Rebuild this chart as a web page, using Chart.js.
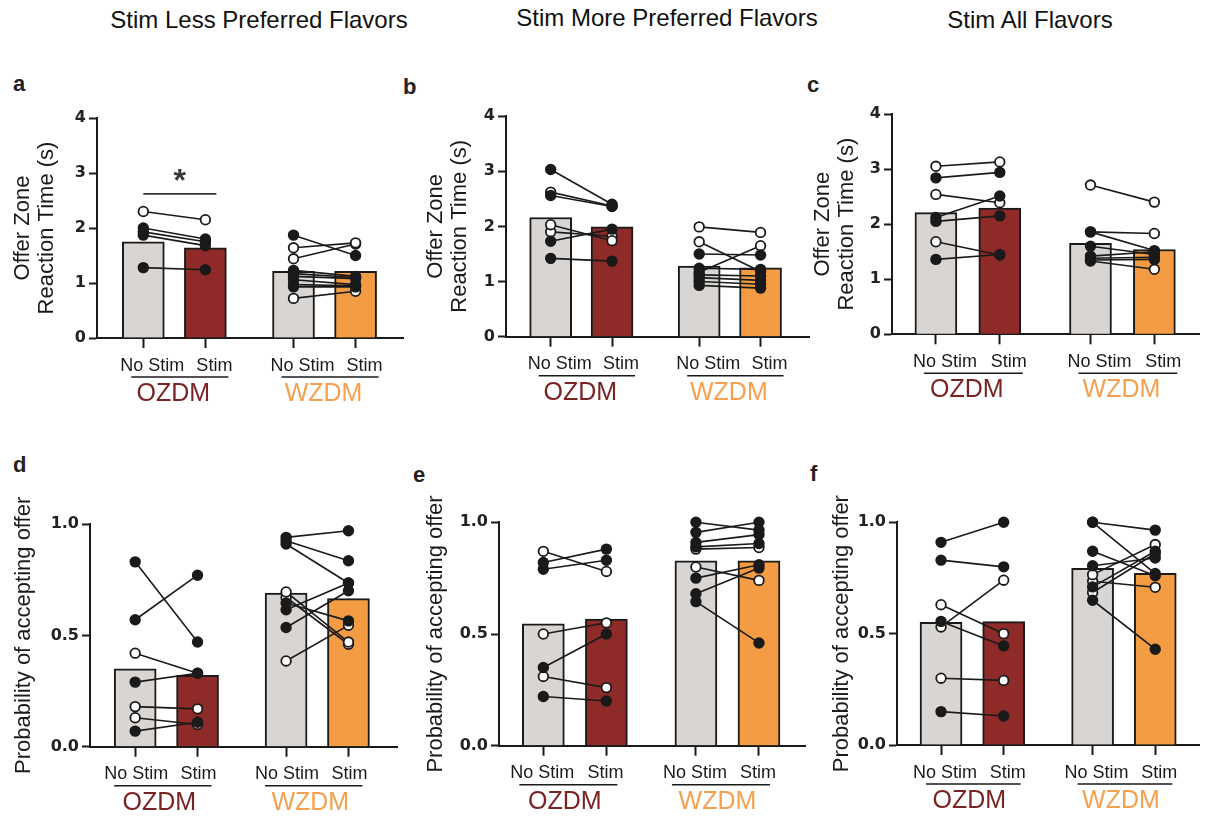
<!DOCTYPE html>
<html>
<head>
<meta charset="utf-8">
<script src="https://cdn.jsdelivr.net/npm/chart.js@4.4.1/dist/chart.umd.min.js"></script>
<style>
  body { margin: 0; background: #fff; font-family: "Liberation Sans", Arial, sans-serif; }
  #fig { position: relative; width: 1206px; height: 818px; overflow: hidden; background: #fff; }
  canvas { position: absolute; }
  .title { position: absolute; font-size: 24px; color: #111; white-space: nowrap; transform: translateX(-50%); }
  .letter { position: absolute; font-size: 22px; font-weight: bold; color: #222; }
</style>
</head>
<body>
<div id="fig">
  <div class="title" style="left:259px; top:6px;">Stim Less Preferred Flavors</div>
  <div class="title" style="left:667px; top:4px;">Stim More Preferred Flavors</div>
  <div class="title" style="left:1030px; top:6px;">Stim All Flavors</div>
  <div class="letter" style="left:13px; top:71px;">a</div>
  <div class="letter" style="left:403px; top:74px;">b</div>
  <div class="letter" style="left:807px; top:72px;">c</div>
  <div class="letter" style="left:13px; top:452px;">d</div>
  <div class="letter" style="left:413px; top:462px;">e</div>
  <div class="letter" style="left:810px; top:461px;">f</div>
</div>
<script>
// labels
const conditions = ['No Stim', 'Stim', 'No Stim', 'Stim'];
const groups = ['OZDM', 'WZDM'];
const rtTitle = ['Offer Zone', 'Reaction Time (s)'];
const probTitle = 'Probability of accepting offer';

// bar heights: OZDM no stim, OZDM stim, WZDM no stim, WZDM stim
const aBars = [1.75, 1.64, 1.21, 1.21];
const bBars = [2.16, 1.99, 1.28, 1.25];
const cBars = [2.21, 2.29, 1.65, 1.54];
const dBars = [0.35, 0.32, 0.69, 0.665];
const eBars = [0.545, 0.567, 0.827, 0.827];
const fBars = [0.551, 0.554, 0.793, 0.771];

// individual animals (1 = filled marker, 0 = open marker)
const aOzNo = [2.30, 2.00, 1.93, 1.87, 1.28];
const aOzSt = [2.15, 1.80, 1.75, 1.68, 1.24];
const aOzFill = [0, 1, 1, 1, 1];
const aWzNo = [1.87, 1.64, 1.44, 1.23, 1.17, 1.12, 1.06, 0.97, 0.93, 0.72];
const aWzSt = [1.50, 1.73, 1.71, 1.12, 1.10, 1.08, 0.97, 0.95, 0.93, 0.85];
const aWzFill = [1, 0, 0, 1, 1, 1, 1, 1, 1, 0];

const bOzNo = [3.03, 2.62, 2.56, 2.03, 1.90, 1.73, 1.42];
const bOzSt = [2.40, 2.37, 2.36, 1.74, 1.82, 1.95, 1.37];
const bOzFill = [1, 0, 1, 0, 0, 1, 1];
const bWzNo = [1.99, 1.72, 1.50, 1.24, 1.17, 1.12, 1.07, 1.00, 0.93];
const bWzSt = [1.89, 1.18, 1.48, 1.22, 1.65, 1.10, 1.02, 0.95, 0.88];
const bWzFill = [0, 0, 1, 1, 0, 1, 1, 1, 1];

const cOzNo = [3.05, 2.84, 2.54, 2.12, 2.05, 1.68, 1.36];
const cOzSt = [3.13, 2.94, 2.39, 2.51, 2.15, 1.44, 1.45];
const cOzFill = [0, 1, 0, 1, 1, 0, 1];
const cWzNo = [2.71, 1.86, 1.86, 1.60, 1.42, 1.38, 1.35, 1.33];
const cWzSt = [2.40, 1.83, 1.52, 1.45, 1.50, 1.40, 1.36, 1.18];
const cWzFill = [0, 0, 1, 1, 1, 1, 1, 0];

const dOzNo = [0.83, 0.57, 0.42, 0.29, 0.18, 0.13, 0.07];
const dOzSt = [0.47, 0.77, 0.33, 0.33, 0.17, 0.10, 0.11];
const dOzFill = [1, 1, 0, 1, 0, 0, 1];
const dWzNo = [0.94, 0.925, 0.91, 0.695, 0.67, 0.645, 0.615, 0.535, 0.385];
const dWzSt = [0.97, 0.835, 0.735, 0.47, 0.46, 0.565, 0.735, 0.70, 0.545];
const dWzFill = [1, 1, 1, 0, 0, 1, 1, 1, 0];

const eOzNo = [0.87, 0.82, 0.79, 0.50, 0.35, 0.31, 0.22];
const eOzSt = [0.78, 0.88, 0.83, 0.55, 0.50, 0.26, 0.20];
const eOzFill = [0, 1, 1, 0, 1, 0, 1];
const eWzNo = [1.0, 0.955, 0.91, 0.89, 0.88, 0.80, 0.75, 0.68, 0.645];
const eWzSt = [0.965, 1.0, 0.945, 0.905, 0.887, 0.74, 0.81, 0.795, 0.46];
const eWzFill = [1, 1, 1, 1, 0, 0, 1, 1, 1];

const fOzNo = [0.91, 0.83, 0.63, 0.555, 0.53, 0.30, 0.15];
const fOzSt = [1.0, 0.80, 0.50, 0.445, 0.74, 0.29, 0.13];
const fOzFill = [1, 1, 0, 1, 0, 0, 1];
const fWzNo = [1.0, 1.0, 0.87, 0.805, 0.765, 0.735, 0.71, 0.685, 0.65];
const fWzSt = [0.965, 0.77, 0.76, 0.84, 0.90, 0.708, 0.87, 0.86, 0.43];
const fWzFill = [1, 1, 1, 1, 0, 0, 1, 0, 1];

// significance bar in panel a (OZDM no stim vs stim)
const aSigY = 2.62;

// x positions of the four bars (wider gap between groups)
const xPos = [0, 1, 2.42, 3.42];

const INK = '#1a1a1a';
const GRAY = '#d8d5d2';
const RED = '#8e2a27';
const ORANGE = '#f39c43';
const groupColors = ['#7a2323', '#f5a04e'];
const FONT = '"Liberation Sans", Arial, sans-serif';

function subjectSets(no, st, fill, p0, p1) {
  return no.map((v, i) => ({
    type: 'line',
    data: [{ x: p0, y: v }, { x: p1, y: st[i] }],
    borderColor: INK,
    borderWidth: 1.6,
    pointRadius: 4.8,
    pointBorderWidth: 1.8,
    pointBorderColor: INK,
    pointBackgroundColor: fill[i] ? INK : '#fff',
    clip: false,
    order: fill[i] ? 1 : 2
  }));
}

const groupLabels = {
  id: 'groupLabels',
  afterDraw(chart, args, opts) {
    const { ctx, chartArea } = chart;
    const x = chart.scales.x, y = chart.scales.y;
    ctx.save();
    [0, 1].forEach(g => {
      const c0 = x.getPixelForValue(xPos[g * 2]);
      const c1 = x.getPixelForValue(xPos[g * 2 + 1]);
      ctx.strokeStyle = INK;
      ctx.lineWidth = 1.5;
      ctx.beginPath();
      ctx.moveTo(c0 + opts.lineL, chartArea.bottom + 39);
      ctx.lineTo(c1 + opts.lineR, chartArea.bottom + 39);
      ctx.stroke();
      ctx.fillStyle = groupColors[g];
      ctx.font = '25px ' + FONT;
      ctx.textAlign = 'center';
      ctx.textBaseline = 'middle';
      ctx.fillText(groups[g], (c0 + c1) / 2 + opts.textShift, chartArea.bottom + 56);
    });
    if (opts.sigY !== undefined) {
      const py = y.getPixelForValue(opts.sigY);
      const s0 = x.getPixelForValue(xPos[0]);
      const s1 = x.getPixelForValue(xPos[1]) + 11;
      ctx.strokeStyle = '#333';
      ctx.lineWidth = 1.6;
      ctx.beginPath();
      ctx.moveTo(s0, py);
      ctx.lineTo(s1, py);
      ctx.stroke();
      ctx.fillStyle = '#3a3a3a';
      ctx.font = 'bold 32px ' + FONT;
      ctx.textAlign = 'center';
      ctx.textBaseline = 'middle';
      ctx.fillText('*', (s0 + s1) / 2, py - 12);
    }
    ctx.restore();
  }
};

function makePanel(p) {
  const canvas = document.createElement('canvas');
  canvas.width = p.w;
  canvas.height = p.h;
  canvas.style.left = p.left + 'px';
  canvas.style.top = p.top + 'px';
  document.getElementById('fig').appendChild(canvas);

  const chartW = p.axisRight - p.axisLeft;
  const xMin = (p.axisLeft - p.c0) / p.unit;
  const xMax = xMin + chartW / p.unit;

  const datasets = [{
    type: 'bar',
    data: xPos.map((v, i) => ({ x: v, y: p.bars[i] })),
    backgroundColor: [GRAY, RED, GRAY, ORANGE],
    borderColor: INK,
    borderWidth: 2,
    barThickness: 42,
    order: 10
  }].concat(subjectSets(p.ozNo, p.ozSt, p.ozFill, xPos[0], xPos[1]))
    .concat(subjectSets(p.wzNo, p.wzSt, p.wzFill, xPos[2], xPos[3]));

  new Chart(canvas.getContext('2d'), {
    type: 'bar',
    data: { datasets },
    options: {
      responsive: false,
      animation: false,
      layout: { padding: { left: 0, right: p.left + p.w - p.axisRight, top: p.axisTop - p.top, bottom: 0 } },
      plugins: {
        legend: { display: false },
        tooltip: { enabled: false },
        groupLabels: { sigY: p.sigY, lineL: p.lineL, lineR: p.lineR, textShift: p.textShift }
      },
      scales: {
        x: {
          type: 'linear',
          min: xMin,
          max: xMax,
          offset: false,
          afterBuildTicks: s => { s.ticks = xPos.map(v => ({ value: v })); },
          afterFit: s => { s.height = p.top + p.h - p.axisBottom; },
          grid: { display: true, offset: false, drawOnChartArea: false, drawTicks: true, tickLength: 10, tickWidth: 2, tickColor: INK },
          border: { display: true, color: INK, width: 2 },
          ticks: {
            autoSkip: false, maxRotation: 0, padding: 7, labelOffset: p.labelShift, color: INK,
            font: { family: FONT, size: 18 }, callback: (v, i) => conditions[i]
          }
        },
        y: {
          min: 0,
          max: p.yMax,
          afterFit: s => { s.width = p.axisLeft - p.left; },
          grid: { display: true, drawOnChartArea: false, drawTicks: true, tickLength: 8, tickWidth: 2, tickColor: INK },
          border: { display: true, color: INK, width: 2 },
          ticks: {
            stepSize: p.yStep, padding: 3, color: '#222',
            font: { family: '"DejaVu Sans", sans-serif', size: 16, weight: 'bold' },
            callback: v => p.yMax > 1 ? String(v) : v.toFixed(1)
          },
          title: { display: true, text: p.yTitle, color: INK, font: { family: FONT, size: 22, lineHeight: 1.1 }, padding: { top: p.titlePad, bottom: 0 } }
        }
      }
    },
    plugins: [groupLabels]
  });
}

const topRow = { labelShift: 9, lineL: -12, lineR: 23, textShift: -1 };

makePanel(Object.assign({ left: 0, top: 100, w: 410, h: 310, axisLeft: 97, axisRight: 408, axisTop: 118, axisBottom: 338, c0: 144, unit: 63,
  yMax: 4, yStep: 1, yTitle: rtTitle, titlePad: 11, bars: aBars, sigY: aSigY,
  ozNo: aOzNo, ozSt: aOzSt, ozFill: aOzFill, wzNo: aWzNo, wzSt: aWzSt, wzFill: aWzFill }, topRow));
makePanel(Object.assign({ left: 400, top: 100, w: 416, h: 310, axisLeft: 506, axisRight: 815, axisTop: 116, axisBottom: 336.7, c0: 551.5, unit: 62.5,
  yMax: 4, yStep: 1, yTitle: rtTitle, titlePad: 24, bars: bBars,
  ozNo: bOzNo, ozSt: bOzSt, ozFill: bOzFill, wzNo: bWzNo, wzSt: bWzSt, wzFill: bWzFill }, topRow));
makePanel(Object.assign({ left: 800, top: 100, w: 406, h: 310, axisLeft: 892, axisRight: 1200, axisTop: 114, axisBottom: 334.3, c0: 936, unit: 64,
  yMax: 4, yStep: 1, yTitle: rtTitle, titlePad: 11, bars: cBars,
  ozNo: cOzNo, ozSt: cOzSt, ozFill: cOzFill, wzNo: cWzNo, wzSt: cWzSt, wzFill: cWzFill }, topRow));
makePanel({ left: 0, top: 480, w: 404, h: 338, axisLeft: 90, axisRight: 403, axisTop: 524, axisBottom: 746.7, c0: 136, unit: 63.5,
  yMax: 1, yStep: 0.5, yTitle: probTitle, titlePad: 12, bars: dBars, labelShift: 1, lineL: -21, lineR: 14, textShift: -7,
  ozNo: dOzNo, ozSt: dOzSt, ozFill: dOzFill, wzNo: dWzNo, wzSt: dWzSt, wzFill: dWzFill });
makePanel({ left: 400, top: 480, w: 412, h: 338, axisLeft: 499, axisRight: 810, axisTop: 522.3, axisBottom: 745.7, c0: 544, unit: 64,
  yMax: 1, yStep: 0.5, yTitle: probTitle, titlePad: 24, bars: eBars, labelShift: -1, lineL: -24, lineR: 11, textShift: -10,
  ozNo: eOzNo, ozSt: eOzSt, ozFill: eOzFill, wzNo: eWzNo, wzSt: eWzSt, wzFill: eWzFill });
makePanel({ left: 800, top: 480, w: 406, h: 338, axisLeft: 897, axisRight: 1206, axisTop: 522.3, axisBottom: 745, c0: 942, unit: 64,
  yMax: 1, yStep: 0.5, yTitle: probTitle, titlePad: 30, bars: fBars, labelShift: 4, lineL: -15, lineR: 17, textShift: -3,
  ozNo: fOzNo, ozSt: fOzSt, ozFill: fOzFill, wzNo: fWzNo, wzSt: fWzSt, wzFill: fWzFill });
</script>
</body>
</html>
